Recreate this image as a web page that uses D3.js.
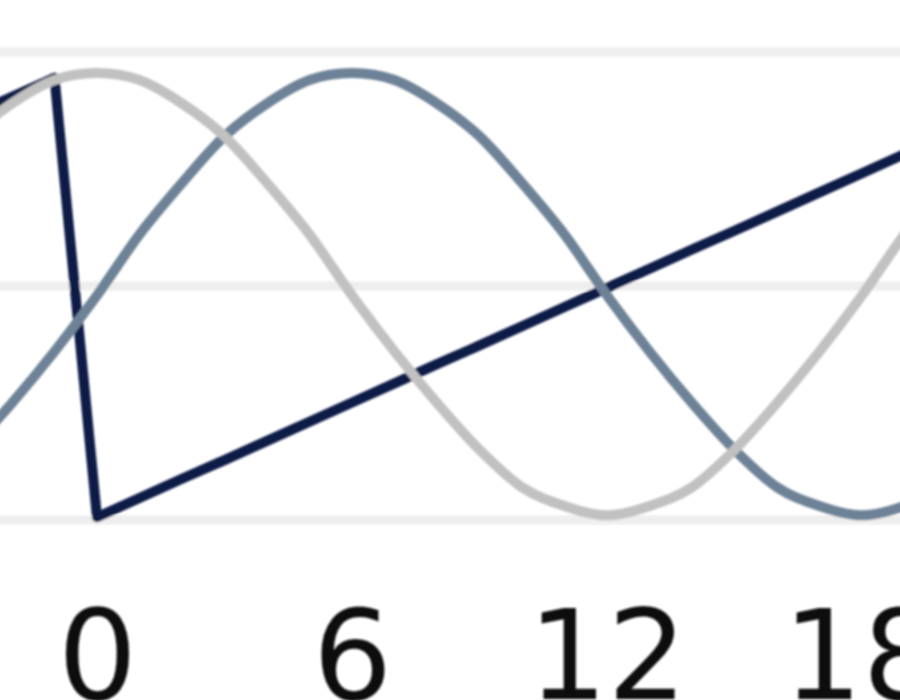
<!DOCTYPE html>
<html>
<head>
<meta charset="utf-8">
<script src="https://cdn.jsdelivr.net/npm/d3@7"></script>
<style>
  html, body { margin: 0; padding: 0; background: #fff; }
  svg { display: block; }
</style>
</head>
<body>
<div id="chart"></div>
<script>
// Hours shown (the crop runs a little past both ends)
const hours = [-3, -2, -1, 0, 1, 2, 3, 4, 5, 6, 7, 8, 9, 10, 11, 12, 13, 14, 15, 16, 17, 18, 19, 20];

// Series values
const hourLinear = [0.863, 0.904, 0.945, 0.006, 0.047, 0.088, 0.128, 0.169, 0.210, 0.251, 0.292, 0.333, 0.373, 0.414, 0.455, 0.496, 0.537, 0.578, 0.618, 0.659, 0.700, 0.741, 0.782, 0.822];
const hourSin = [0.15, 0.25, 0.36, 0.48, 0.61, 0.72, 0.82, 0.89, 0.94, 0.955, 0.94, 0.89, 0.82, 0.72, 0.61, 0.48, 0.36, 0.25, 0.15, 0.07, 0.03, 0.01, 0.03, 0.07];
const hourCos = [0.82, 0.89, 0.94, 0.955, 0.94, 0.89, 0.82, 0.72, 0.61, 0.48, 0.36, 0.25, 0.15, 0.07, 0.03, 0.01, 0.03, 0.07, 0.15, 0.25, 0.36, 0.48, 0.61, 0.72];

const xTicks = [0, 6, 12, 18];
const gridValues = [0, 0.5, 1];

const width = 900;
const height = 700;

const svg = d3.select("#chart")
    .append("svg")
    .attr("width", width)
    .attr("height", height);

// soft edges, the original is a blown-up small chart
svg.append("defs")
    .append("filter")
    .attr("id", "soft")
    .append("feGaussianBlur")
    .attr("stdDeviation", 1.2);

const root = svg.append("g").attr("filter", "url(#soft)");

// scales: hour 0 sits at x=97, hour 18 at x=862
const x = d3.scaleLinear().domain([0, 18]).range([97, 862]);
const y = d3.scaleLinear().domain([0, 1]).range([520, 52]);

// horizontal gridlines
root.append("g")
    .selectAll("line")
    .data(gridValues)
    .join("line")
    .attr("x1", -10)
    .attr("x2", width + 10)
    .attr("y1", d => y(d))
    .attr("y2", d => y(d))
    .attr("stroke", "#eeeeee")
    .attr("stroke-width", 9);

// series, drawn in order so the light one ends up on top
const series = [
    { values: hourLinear, color: "#0c1a47", curve: d3.curveLinear },
    { values: hourSin, color: "#6e8297", curve: d3.curveCardinal.tension(0) },
    { values: hourCos, color: "#c1c1c1", curve: d3.curveCardinal.tension(0) }
];

series.forEach(s => {
    const line = d3.line()
        .curve(s.curve)
        .x(d => x(d[0]))
        .y(d => y(d[1]));

    root.append("path")
        .datum(hours.map((h, i) => [h, s.values[i]]))
        .attr("fill", "none")
        .attr("stroke", s.color)
        .attr("stroke-width", 10)
        .attr("stroke-linejoin", "round")
        .attr("stroke-linecap", "round")
        .attr("d", line);
});

// x axis labels only
const xAxis = root.append("g")
    .attr("transform", "translate(0,699)")
    .call(d3.axisBottom(x).tickValues(xTicks).tickSize(0).tickPadding(0));

xAxis.select(".domain").remove();
xAxis.selectAll("text")
    .attr("dy", 0)
    .attr("y", 0)
    .style("font-family", "'DejaVu Sans', sans-serif")
    .style("font-size", "125px")
    .attr("fill", "#111");
</script>
</body>
</html>
